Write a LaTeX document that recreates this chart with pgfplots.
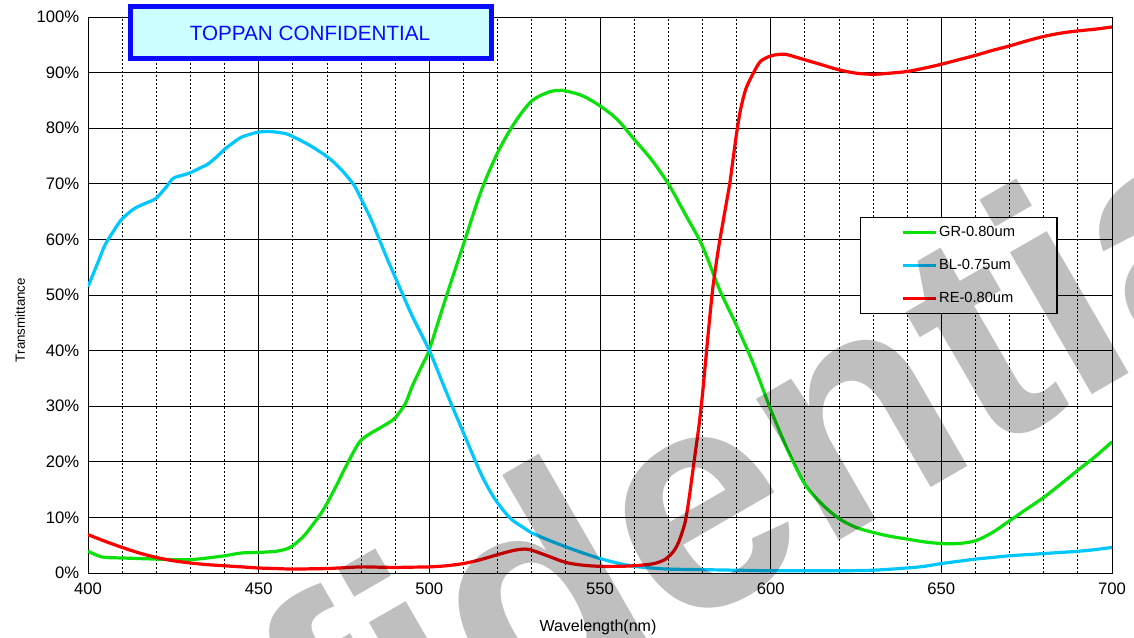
\documentclass[border=0pt]{standalone}
\usepackage{fontspec}
\setmainfont{Liberation Sans}
\usepackage{pgfplots}
\pgfplotsset{compat=1.18}

\definecolor{grn}{RGB}{10,225,10}
\definecolor{blu}{RGB}{0,200,255}
\definecolor{rd}{RGB}{255,0,0}
\definecolor{boxblue}{RGB}{10,10,255}
\definecolor{boxfill}{RGB}{204,255,255}

% 1 px of the reference = 0.75pt
\begin{document}
\begin{tikzpicture}
\path[use as bounding box] (-66pt,-48.75pt) rectangle (784.5pt,429.75pt);
\begin{axis}[
  scale only axis, width=768pt, height=417pt,
  xmin=400, xmax=700, ymin=0, ymax=100,
  xtick={400,450,...,700},
  minor xtick={410,420,430,440,460,470,480,490,510,520,530,540,560,570,580,590,610,620,630,640,660,670,680,690},
  ytick={0,10,...,100},
  grid=both,
  major grid style={black, line width=0.6pt},
  minor grid style={black, line width=0.6pt, dash pattern=on 1.5pt off 1.5pt},
  tick style={draw=none},
  axis line style={black, line width=0.6pt},
  /pgf/number format/assume math mode=true,
  yticklabel={\pgfmathprintnumber{\tick}\%},
  ticklabel style={font=\fontsize{12.5}{14}\selectfont},
  xticklabel style={yshift=-4pt},
  yticklabel style={xshift=-3pt},
  xlabel={Wavelength(nm)}, ylabel={Transmittance},
  xlabel style={at={(axis description cs:0.498,-0.0971)}, anchor=center, font=\fontsize{12}{14}\selectfont},
  ylabel style={at={(axis description cs:-0.0664,0.455)}, anchor=center, font=\fontsize{10}{12}\selectfont},
  every axis plot/.append style={line width=2.4pt, smooth},
  legend image code/.code={\draw[#1] (0pt,0pt) -- (25pt,0pt);},
  legend cell align=left,
  legend style={at={(axis description cs:0.754,0.640)}, anchor=north west,
    draw=black, fill=white, line width=0.8pt,
    font=\fontsize{11}{13}\selectfont,
    inner xsep=30.5pt, inner ysep=4.5pt, row sep=11.5pt,
    nodes={inner xsep=1pt, inner ysep=2pt}},
]
\addplot[grn] table {
400 3.9
403 3.1
405 2.8
410 2.7
415 2.6
420 2.5
425 2.4
430 2.4
435 2.7
440 3.1
445 3.6
450 3.7
455 3.9
458 4.3
460 4.9
463 6.5
465 8
468 10.5
470 12.5
473 16
475 18.5
478 22
480 23.9
483 25.2
485 25.9
488 27
490 27.9
493 30.5
495 33.6
498 37.5
500 40.2
505 49.8
510 59.1
515 68.4
520 75.6
525 81
530 84.9
535 86.5
538 86.8
540 86.7
545 85.8
550 84
555 81.6
560 78
565 74.4
570 70
575 64.5
580 58.8
585 51
590 44.5
595 37.5
600 29.4
605 22.1
610 16
615 12.4
620 9.8
625 8.2
630 7.3
635 6.6
640 6.1
645 5.6
650 5.3
655 5.3
660 5.8
665 7.3
670 9.4
675 11.5
680 13.6
685 16
690 18.5
695 20.9
700 23.6
};
\addlegendentry{GR-0.80um}
\addplot[blu] table {
400 51.5
403 56
405 59
408 62
410 63.7
413 65.3
415 66
418 66.8
420 67.4
423 69.5
425 71
428 71.6
430 72
433 72.9
435 73.5
438 75
440 76.2
443 77.6
445 78.4
448 79
450 79.3
453 79.4
455 79.3
458 79
460 78.5
465 76.9
470 74.9
473 73.3
475 72
478 69.7
480 67.3
483 63.5
485 60.5
488 56
490 53.2
495 46.2
500 40
505 32.5
510 25.2
515 18
518 14.5
520 12.6
523 10.3
525 9.2
528 8
530 7.2
535 5.9
540 4.7
545 3.6
550 2.6
555 1.8
560 1.2
565 0.9
570 0.7
580 0.6
590 0.5
600 0.4
610 0.4
620 0.4
630 0.5
640 0.9
645 1.2
650 1.7
655 2.1
660 2.5
665 2.8
670 3.1
675 3.3
680 3.5
685 3.7
690 3.9
695 4.2
700 4.6
};
\addlegendentry{BL-0.75um}
\addplot[rd] table {
400 6.9
405 5.7
410 4.6
415 3.6
420 2.8
425 2.2
430 1.8
435 1.5
440 1.3
445 1.1
450 0.9
455 0.8
460 0.7
465 0.75
470 0.8
475 0.95
480 1.1
485 1.05
490 1.0
495 1.05
500 1.1
505 1.3
510 1.7
515 2.4
520 3.3
525 4.1
528 4.3
530 4.1
535 3.0
540 1.9
545 1.4
550 1.2
555 1.2
560 1.3
565 1.6
567 1.9
569 2.4
570 2.9
571 3.5
572 4.3
573 5.5
574 7.2
575 9.3
576 13
577 17.5
578 22
579 26.5
580 32
581 38.5
582 45
583 51
584 55.5
585 59.5
586 63
587 66.5
588 70
589 74.5
590 79
591 82.8
592 85.5
593 87.5
595 90
597 92
600 93
603 93.3
605 93.2
610 92.3
615 91.4
620 90.5
625 89.9
630 89.7
635 89.9
640 90.2
645 90.8
650 91.5
655 92.3
660 93.1
665 94
670 94.8
675 95.7
680 96.5
685 97.1
690 97.5
695 97.8
700 98.2
};
\addlegendentry{RE-0.80um}
\end{axis}
% title box
\draw[boxblue, line width=3.75pt, fill=boxfill] (31.875pt,385.875pt) rectangle (302.625pt,424.875pt);
\node[text=boxblue, font=\fontsize{15.5}{18}\selectfont] at (166.5pt,405pt) {TOPPAN CONFIDENTIAL};
% watermark
\node[anchor=base west, rotate=30, text=black, text opacity=0.25, inner sep=0pt,
  font=\fontsize{232.5}{235}\selectfont\bfseries] at (-200.4pt,-416.7pt) {Confidential};
\end{tikzpicture}
\end{document}
